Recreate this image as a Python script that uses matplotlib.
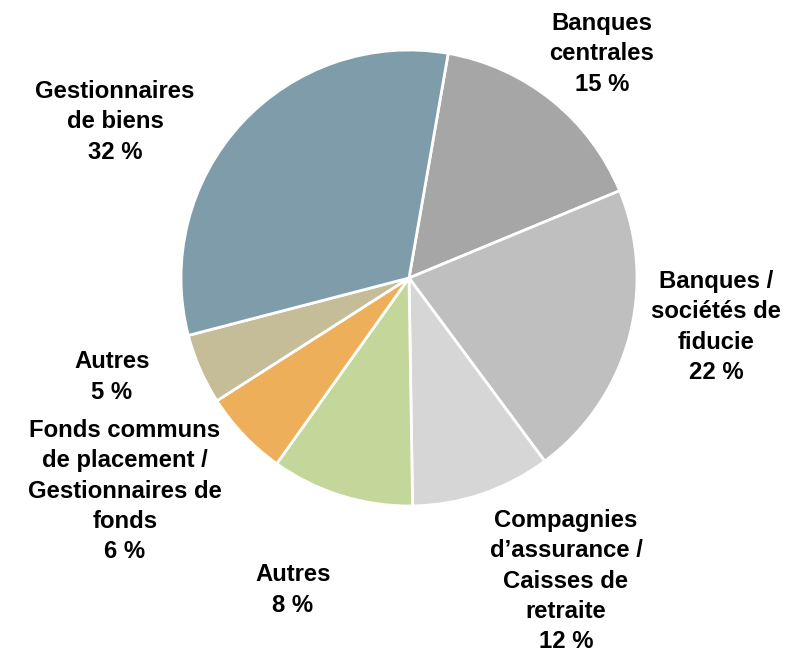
import matplotlib.pyplot as plt

plt.rcParams["font.family"] = ["Liberation Sans", "DejaVu Sans"]

# slices in clockwise order, starting at the top (Banques centrales)
labels = [
    "Banques\ncentrales\n15 %",
    "Banques /\nsociétés de\nfiducie\n22 %",
    "Compagnies\nd\u2019assurance /\nCaisses de\nretraite\n12 %",
    "Autres\n8 %",
    "Fonds communs\nde placement /\nGestionnaires de\nfonds\n6 %",
    "Autres\n5 %",
    "Gestionnaires\nde biens\n32 %",
]
# shares as drawn in the picture (angles)
shares = [16.0, 21.1, 9.9, 10.1, 6.1, 5.0, 31.8]
colors = ["#A6A6A6", "#BFBFBF", "#D6D6D6", "#C4D79B", "#EDAF5A", "#C4BD97", "#7F9CAA"]

# label centres in pixel units (x from left, y from top)
label_pos = [(602, 54), (716, 327), (566, 581), (293, 590), (125, 491), (112, 377), (115, 122)]

W, H = 791, 652
fig = plt.figure(figsize=(W / 100, H / 100), dpi=100)
ax = fig.add_axes([0, 0, 1, 1])

ax.pie(
    shares,
    colors=colors,
    startangle=80.1,
    counterclock=False,
    radius=228,
    center=(409, H - 278),
    wedgeprops=dict(edgecolor="white", linewidth=2),
)
# pie() resets the limits, so set them afterwards
ax.set_xlim(0, W)
ax.set_ylim(0, H)
ax.set_aspect("equal")
ax.axis("off")

for text, (x, y) in zip(labels, label_pos):
    ax.text(x, H - y, text, ha="center", va="center", fontsize=17.2,
            fontweight="bold", linespacing=1.4)

fig.savefig("out.png", dpi=100)
